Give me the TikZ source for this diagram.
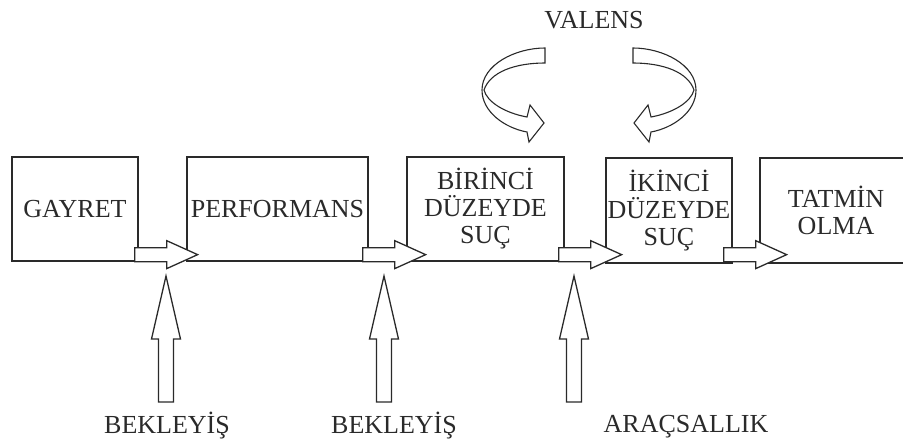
\documentclass[tikz,border=0pt]{standalone}
\usepackage{fontspec}
\setmainfont{Liberation Serif}
\usetikzlibrary{calc}
\definecolor{ink}{HTML}{2A2A2A}
\begin{document}
\begin{tikzpicture}[x=1pt,y=-1pt,line join=miter,
  box/.style={draw=ink,line width=1.3pt,inner sep=0pt,align=center,
    font=\fontsize{26}{27}\selectfont,text=ink},
  lab/.style={font=\fontsize{26}{27}\selectfont,text=ink,inner sep=0pt,anchor=base},
  blockarrow/.style={draw=ink,fill=white,line width=1.3pt},
  rarrow/.pic={\path[blockarrow] (0,-7) -- (32,-7) -- (32,-14) -- (63,0) -- (32,14) -- (32,7) -- (0,7) -- cycle;},
  uarrow/.pic={\path[blockarrow] (0,0) -- (14.5,63) -- (7.5,63) -- (7.5,126) -- (-7.5,126) -- (-7.5,63) -- (-14.5,63) -- cycle;}]
\useasboundingbox (0,0) rectangle (903,439);
\clip (0,0) rectangle (903,439);
% boxes
\node[box,minimum width=126pt,minimum height=104pt] (gayret) at (75,209) {GAYRET};
\node[box,minimum width=181pt,minimum height=104pt] (perf) at (277.5,209) {PERFORMANS};
\node[box,minimum width=157pt,minimum height=104pt] (birinci) at (485.5,209) {BİRİNCİ\\DÜZEYDE\\SUÇ};
\node[box,minimum width=126pt,minimum height=105pt] (ikinci) at (669,210.5) {İKİNCİ\\DÜZEYDE\\SUÇ};
\node[box,minimum width=152pt,minimum height=105pt] (tatmin) at (836,210.5) {TATMİN\\OLMA};
% horizontal block arrows
\pic at ($(gayret.south east)+(-4,-7)$) {rarrow};
\pic at ($(perf.south east)+(-6,-7)$) {rarrow};
\pic at ($(birinci.south east)+(-6,-7)$) {rarrow};
\pic at ($(ikinci.south east)+(-9,-9)$) {rarrow};
% labels
\node[lab] (bek1) at (167,433) {BEKLEYİŞ};
\node[lab] (bek2) at (394,433) {BEKLEYİŞ};
\node[lab] (arac) at (686,432) {ARAÇSALLIK};
\node[lab] (valens) at (594,28) {VALENS};
% vertical block arrows
\pic at (166,276) {uarrow};
\pic at (384,276) {uarrow};
\pic at (574,276) {uarrow};
% curved arrows
\path[blockarrow,line width=1.1pt] (545,48) .. controls (515,48) and (482,65) .. (482,90)
  .. controls (482,112) and (505,128) .. (527,132) -- (529,142) -- (544,123) -- (530,105) -- (527,117)
  .. controls (505,113) and (487,102) .. (484,90)
  .. controls (490,72) and (515,63) .. (545,63) -- cycle;
\path[blockarrow,line width=1.1pt] (633,48) .. controls (663,48) and (696,65) .. (696,90)
  .. controls (696,112) and (673,128) .. (651,132) -- (649,142) -- (634,123) -- (648,105) -- (651,117)
  .. controls (673,113) and (691,102) .. (694,90)
  .. controls (688,72) and (663,63) .. (633,63) -- cycle;
\end{tikzpicture}
\end{document}
